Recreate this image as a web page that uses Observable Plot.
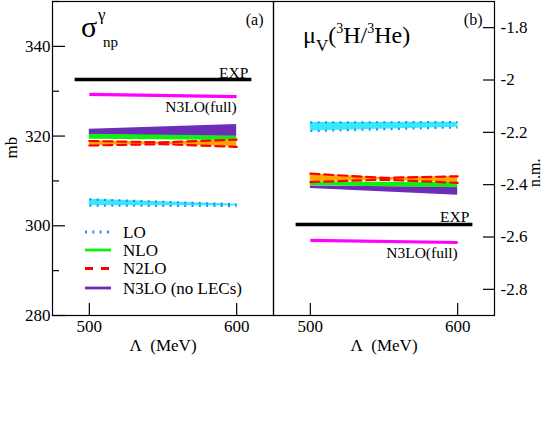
<!DOCTYPE html>
<html><head><meta charset="utf-8">
<script src="https://cdn.jsdelivr.net/npm/d3@7"></script>
<script src="https://cdn.jsdelivr.net/npm/@observablehq/plot@0.6"></script>
<style>
body{margin:0;background:#fff;}
#chart{position:relative;width:545px;height:437px;}
#chart svg{position:absolute;top:0;background:transparent;overflow:visible;}
#chart svg, #chart svg text, #chart svg tspan{font-family:"Liberation Serif","Times New Roman",serif !important;}
</style></head><body><div id="chart"></div>
<script>
// ---- data ----
const cutoffs = [500, 600];
const cutoffsMid = [500, 550, 600];
const expRange = [490, 610];

// panel (a): sigma_np^gamma (mb)
const aLOlo = [304.5, 304.4], aLOhi = [305.9, 304.8];
const aNLOlo = [319.3, 319.0], aNLOhi = [320.4, 320.0];
const aN2LOlo = [317.9, 318.2, 317.6], aN2LOhi = [318.9, 318.6, 319.2];
const aN3LOlo = [320.3, 319.8], aN3LOhi = [321.5, 322.6];
const aFull = [329.3, 328.8];
const aExp = 332.6;
const aTicks = [280, 300, 320, 340], aMinor = [290, 310, 330, 350];

// panel (b): mu_V(3H/3He) (n.m.)
const bLOlo = [-2.195, -2.181], bLOhi = [-2.162, -2.161];
const bNLOlo = [-2.404, -2.412], bNLOhi = [-2.390, -2.392];
const bN2LOlo = [-2.390, -2.381, -2.393], bN2LOhi = [-2.358, -2.374, -2.368];
const bN3LOlo = [-2.415, -2.440], bN3LOhi = [-2.405, -2.410];
const bFull = [-2.613, -2.621];
const bExp = -2.552;
const bTicks = [-2.8, -2.6, -2.4, -2.2, -2, -1.8];
const xTicks = [500, 600];

const legendNames = ["LO", "NLO", "N2LO", "N3LO (no LECs)"];

// ---- styles ----
const C = {cyan:"#3ae8fb", blue:"#1e90ff", green:"#10f010", orange:"#ffa500", red:"#ff0000",
           purple:"#6e2cb8", magenta:"#ff00ff", black:"#000"};
const FONT = "'Liberation Serif', 'Times New Roman', serif";

const band = (xs, lo, hi) => xs.map((x, i) => ({x, lo: lo[i], hi: hi[i]}));
const series = (xs, ys) => xs.map((x, i) => ({x, y: ys[i]}));

function dataMarks(d) {
  const lo = band(cutoffs, d.LOlo, d.LOhi);
  const nlo = band(cutoffs, d.NLOlo, d.NLOhi);
  const n2 = band(cutoffsMid, d.N2LOlo, d.N2LOhi);
  const n3 = band(cutoffs, d.N3LOlo, d.N3LOhi);
  const full = series(cutoffs, d.full);
  const exp = series(expRange, [d.exp, d.exp]);
  return [
    Plot.areaY(n3, {x:"x", y1:"lo", y2:"hi", fill:C.purple}),
    Plot.areaY(nlo, {x:"x", y1:"lo", y2:"hi", fill:C.green}),
    Plot.areaY(n2, {x:"x", y1:"lo", y2:"hi", fill:C.orange}),
    Plot.lineY(n2, {x:"x", y:"lo", stroke:C.red, strokeWidth:2.2, strokeDasharray:"9,5"}),
    Plot.lineY(n2, {x:"x", y:"hi", stroke:C.red, strokeWidth:2.2, strokeDasharray:"9,5"}),
    Plot.areaY(lo, {x:"x", y1:"lo", y2:"hi", fill:C.cyan}),
    Plot.lineY(lo, {x:"x", y:"lo", stroke:C.blue, strokeWidth:2.2, strokeDasharray:"2,5.3", strokeLinecap:"butt"}),
    Plot.lineY(lo, {x:"x", y:"hi", stroke:C.blue, strokeWidth:2.2, strokeDasharray:"2,5.3", strokeLinecap:"butt"}),
    Plot.lineY(exp, {x:"x", y:"y", stroke:C.black, strokeWidth:3.5, strokeLinecap:"butt"}),
    Plot.lineY(full, {x:"x", y:"y", stroke:C.magenta, strokeWidth:3.2, strokeLinecap:"butt"}),
    Plot.text([exp[1]], {x:"x", y:"y", text:() => "EXP", textAnchor:"end", lineAnchor:"bottom", dx:-3, dy:-2, fontSize:15.5}),
    Plot.text([full[1]], {x:"x", y:"y", text:() => "N3LO(full)", textAnchor:"end", lineAnchor:"top", dx:0, dy:4, fontSize:15.5})
  ];
}

const common = {
  height: 437, marginTop: 1, marginBottom: 122,
  x: {domain: [475, 625]},
  style: {fontFamily: FONT, fontSize: "17px", background: "transparent", overflow: "visible", color: "#000"}
};

// ---- panel (a) ----
const svgA = Plot.plot({
  ...common, width: 274, marginLeft: 52, marginRight: 1,
  y: {domain: [280, 350]},
  marks: [
    ...dataMarks({LOlo:aLOlo, LOhi:aLOhi, NLOlo:aNLOlo, NLOhi:aNLOhi, N2LOlo:aN2LOlo, N2LOhi:aN2LOhi,
                  N3LOlo:aN3LOlo, N3LOhi:aN3LOhi, full:aFull, exp:aExp}),
    Plot.frame({stroke:"#000", strokeWidth:1.2}),
    Plot.axisY({anchor:"left", ticks:aTicks, tickSize:-13, fill:"none", label:null, strokeWidth:1.2}),
    Plot.axisY({anchor:"left", ticks:aMinor, tickSize:-7, fill:"none", label:null, strokeWidth:1.2}),
    Plot.axisY({anchor:"left", ticks:aTicks, tickSize:0, tickPadding:2, label:null}),
    Plot.axisX({anchor:"bottom", ticks:xTicks, tickSize:-12, fill:"none", label:null, strokeWidth:1.2}),
    Plot.axisX({anchor:"bottom", ticks:xTicks, tickSize:0, tickPadding:4, label:null}),
    Plot.text(["mb"], {frameAnchor:"left", text:d => d, rotate:-90, dx:-41, fontSize:17}),
    Plot.text(["\u039b\u00a0 (MeV)"], {frameAnchor:"bottom", text:d => d, dy:35, fontSize:17}),
    Plot.text(["(a)"], {frameAnchor:"top-right", text:d => d, dx:-10, dy:12, fontSize:16})
  ]
});

// ---- panel (b) ----
const svgB = Plot.plot({
  ...common, width: 272, marginLeft: 0, marginRight: 51,
  y: {domain: [-2.9, -1.7]},
  marks: [
    ...dataMarks({LOlo:bLOlo, LOhi:bLOhi, NLOlo:bNLOlo, NLOhi:bNLOhi, N2LOlo:bN2LOlo, N2LOhi:bN2LOhi,
                  N3LOlo:bN3LOlo, N3LOhi:bN3LOhi, full:bFull, exp:bExp}),
    Plot.frame({stroke:"#000", strokeWidth:1.2}),
    Plot.axisY({anchor:"right", ticks:bTicks, tickSize:-12, fill:"none", label:null, strokeWidth:1.2}),
    Plot.axisY({anchor:"right", ticks:bTicks, tickSize:0, tickPadding:6, label:null, tickFormat:d => String(d).replace("\u2212","-")}),
    Plot.axisX({anchor:"bottom", ticks:xTicks, tickSize:-12, fill:"none", label:null, strokeWidth:1.2}),
    Plot.axisX({anchor:"bottom", ticks:xTicks, tickSize:0, tickPadding:4, label:null}),
    Plot.text(["n.m."], {frameAnchor:"right", text:d => d, rotate:-90, dx:40, fontSize:16}),
    Plot.text(["\u039b\u00a0 (MeV)"], {frameAnchor:"bottom", text:d => d, dy:35, fontSize:17}),
    Plot.text(["(b)"], {frameAnchor:"top-right", text:d => d, dx:-12, dy:12, fontSize:16})
  ]
});

const chart = document.getElementById("chart");
svgA.style.left = "0px";
svgB.style.left = "273px";
chart.appendChild(svgA);
chart.appendChild(svgB);

// ---- titles ----
const tA = d3.select(svgA).append("text").attr("font-family", FONT).attr("fill", "#000").attr("text-anchor", "start");
tA.append("tspan").attr("x", 81).attr("y", 37).attr("font-size", 30).text("\u03c3");
tA.append("tspan").attr("x", 98).attr("y", 20).attr("font-size", 17).text("\u03b3");
tA.append("tspan").attr("x", 103).attr("y", 47).attr("font-size", 15).text("np");

const tB = d3.select(svgB).append("text").attr("font-family", FONT).attr("fill", "#000").attr("text-anchor", "start")
  .attr("x", 30).attr("y", 43).attr("font-size", 24);
tB.append("tspan").text("\u03bc");
tB.append("tspan").attr("font-size", 17).attr("dy", 8).text("V");
tB.append("tspan").attr("dy", -8).text("(");
tB.append("tspan").attr("font-size", 14).attr("dy", -10).text("3");
tB.append("tspan").attr("dy", 10).text("H/");
tB.append("tspan").attr("font-size", 14).attr("dy", -10).text("3");
tB.append("tspan").attr("dy", 10).text("He)");

// ---- legend (panel a) ----
const legStyles = [
  {stroke:C.blue, dash:"2,5.3", cap:"butt"},
  {stroke:C.green, dash:null, cap:"butt"},
  {stroke:C.red, dash:"8,8", cap:"butt"},
  {stroke:C.purple, dash:null, cap:"butt"}
];
const legRows = [232, 250, 268.5, 288];
const leg = d3.select(svgA).append("g");
legendNames.forEach((name, i) => {
  const s = legStyles[i];
  leg.append("line").attr("x1", 85).attr("x2", 111).attr("y1", legRows[i]).attr("y2", legRows[i])
    .attr("stroke", s.stroke).attr("stroke-width", 2.8).attr("stroke-linecap", s.cap)
    .attr("stroke-dasharray", s.dash);
  leg.append("text").attr("x", 123).attr("y", legRows[i]).attr("dy", "0.33em").attr("text-anchor", "start")
    .attr("font-family", FONT).attr("font-size", 17).attr("fill", "#000").text(name);
});
</script></body></html>
